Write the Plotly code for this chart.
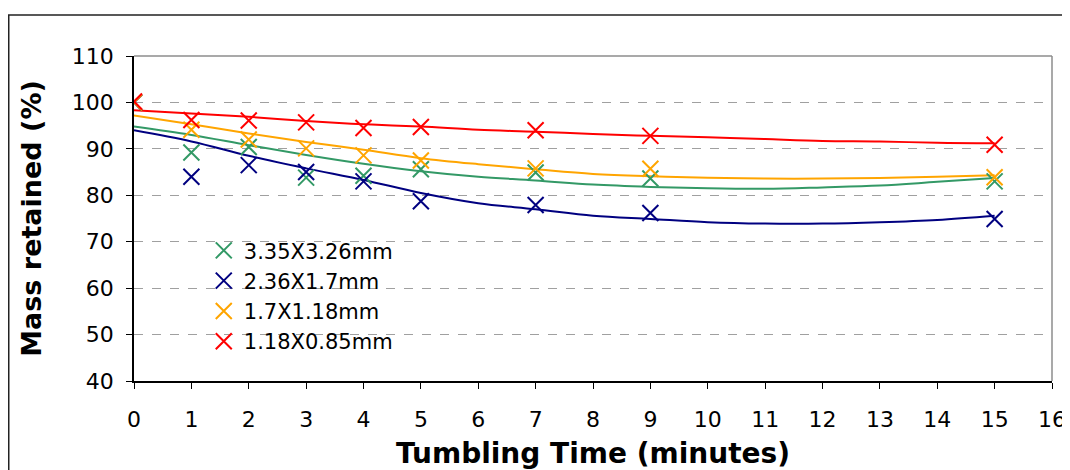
import plotly.graph_objects as go

# ---- data ----
times = [0, 1, 2, 3, 4, 5, 7, 9, 15]
series_names = ["3.35X3.26mm", "2.36X1.7mm", "1.7X1.18mm", "1.18X0.85mm"]
green_vals = [100, 89.2, 90.4, 83.8, 84.2, 85.6, 84.9, 83.6, 83.0]
blue_vals = [100, 84.0, 86.5, 85.0, 83.0, 78.7, 77.9, 76.2, 74.9]
orange_vals = [100, 94.1, 92.0, 90.1, 88.6, 87.5, 85.8, 85.7, 83.9]
red_vals = [100.2, 96.2, 96.1, 95.7, 94.5, 94.7, 94.0, 92.8, 90.9]

trend_x = [0, 1, 2, 3, 4, 5, 6, 7, 8, 9, 10, 11, 12, 13, 14, 15]
green_trend = [94.8, 93.0, 90.8, 88.7, 86.8, 85.2, 84.0, 83.2, 82.3, 81.8, 81.5, 81.4, 81.7, 82.1, 82.9, 83.7]
blue_trend = [94.0, 91.6, 88.5, 85.8, 83.3, 80.5, 78.3, 77.0, 75.6, 74.9, 74.2, 73.9, 73.9, 74.2, 74.7, 75.6]
orange_trend = [97.2, 95.3, 93.3, 91.5, 89.8, 88.0, 86.7, 85.6, 84.6, 84.1, 83.8, 83.6, 83.6, 83.7, 84.0, 84.3]
red_trend = [98.3, 97.6, 96.9, 96.0, 95.3, 94.8, 94.1, 93.7, 93.2, 92.8, 92.5, 92.1, 91.7, 91.6, 91.3, 91.2]

x_ticks = list(range(0, 17))
y_ticks = [40, 50, 60, 70, 80, 90, 100, 110]

colors = ["#339966", "#000080", "#FFA500", "#FF0000"]
point_sets = [green_vals, blue_vals, orange_vals, red_vals]
trend_sets = [green_trend, blue_trend, orange_trend, red_trend]

FONT = "DejaVu Sans"

fig = go.Figure()

# trend lines
for name, col, tr in zip(series_names, colors, trend_sets):
    fig.add_trace(go.Scatter(
        x=trend_x, y=tr, mode="lines", line=dict(color=col, width=2, shape="spline"),
        showlegend=False, hoverinfo="skip"))

# markers
for name, col, vals in zip(series_names, colors, point_sets):
    fig.add_trace(go.Scatter(
        x=times, y=vals, mode="markers", name=name,
        marker=dict(symbol="x-thin", size=16, line=dict(color=col, width=2), color=col)))

# page body has an 8px margin, so the figure is sized to fill the rest of the window
fig.update_layout(
    width=1062, height=462,
    margin=dict(l=126, r=18, t=48, b=89),
    paper_bgcolor="white", plot_bgcolor="white",
    font=dict(family=FONT, color="black", size=20),
    showlegend=True,
    legend=dict(x=0.076, y=0.464, xanchor="left", yanchor="top",
                bgcolor="rgba(0,0,0,0)", font=dict(size=21, family=FONT),
                itemwidth=30),
    xaxis=dict(range=[0, 16], tickvals=x_ticks, ticks="outside", ticklen=6,
               tickcolor="black", showline=True, linecolor="black", linewidth=1.5,
               showgrid=False, zeroline=False, ticklabelstandoff=12, automargin=False,
               tickfont=dict(size=22, family=FONT),
               title=dict(text="<b>Tumbling Time (minutes)</b>", font=dict(size=28, family=FONT), standoff=14)),
    yaxis=dict(range=[40, 110], tickvals=y_ticks, ticks="outside", ticklen=6,
               tickcolor="black", showline=True, linecolor="black", linewidth=1.5,
               showgrid=True, gridcolor="#A0A0A0", griddash="dash", gridwidth=1,
               zeroline=False, ticklabelstandoff=8, automargin=False,
               tickfont=dict(size=22, family=FONT),
               title=dict(text="<b>Mass retained (%)</b>", font=dict(size=27, family=FONT), standoff=22)),
    shapes=[
        # plot area frame (top/right gray)
        dict(type="line", xref="paper", yref="paper", x0=0, x1=1, y0=1, y1=1,
             line=dict(color="#8C8C8C", width=1.5)),
        dict(type="line", xref="paper", yref="paper", x0=1, x1=1, y0=0, y1=1,
             line=dict(color="#8C8C8C", width=1.5)),
        # outer chart border
        dict(type="rect", xref="paper", yref="paper", x0=-0.13644, x1=1.0153, y0=-0.5, y1=1.126,
             line=dict(color="#222222", width=1.5), layer="below"),
    ],
)

fig.write_html("out.html")
